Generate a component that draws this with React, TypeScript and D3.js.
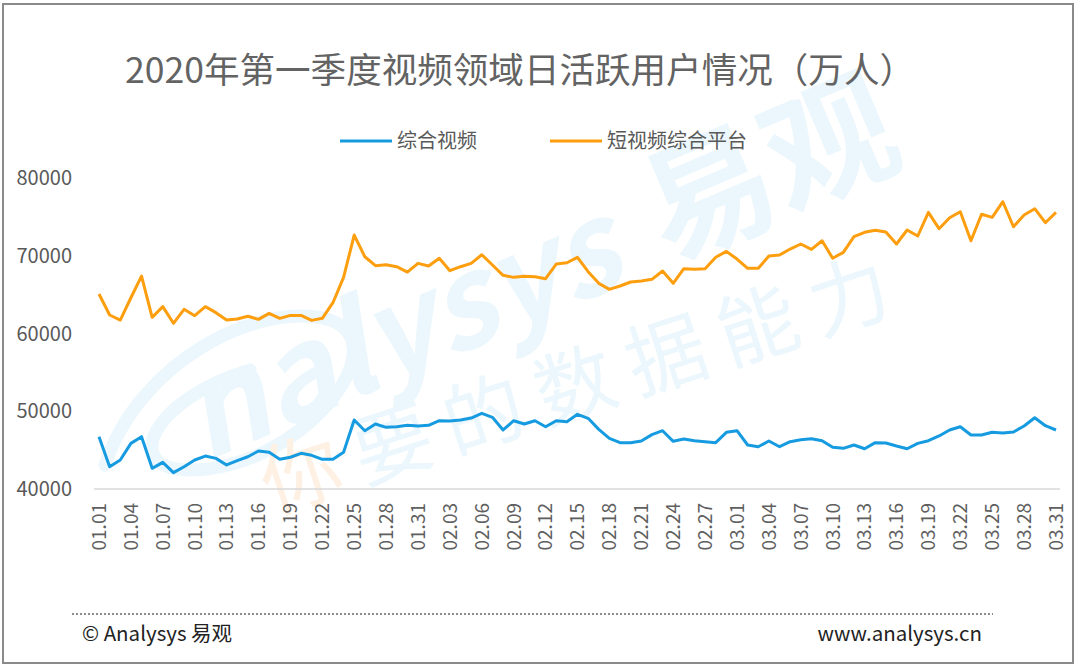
import React, { useRef, useEffect } from "react";
import * as d3 from "d3";

// daily active users, 10k people, 2020-01-01 .. 2020-03-31
const comprehensive = [
  46730, 42870, 43730, 45870, 46730, 42660, 43430, 42100, 42870, 43730,
  44240, 43940, 43090, 43640, 44150, 44890, 44720, 43820, 44080, 44590,
  44330, 43820, 43820, 44720, 48870, 47500, 48360, 47930, 48010, 48190,
  48100, 48190, 48780, 48740, 48870, 49130, 49730, 49220, 47590, 48780,
  48360, 48780, 48010, 48780, 48660, 49600, 49090, 47670, 46520, 45960,
  45960, 46170, 46990, 47500, 46130, 46430, 46210, 46080, 45960, 47290,
  47500, 45660, 45440, 46170, 45440, 46080, 46340, 46470, 46210, 45360,
  45230, 45660, 45180, 45960, 45920, 45530, 45180, 45870, 46210, 46820,
  47590, 48010, 46940, 46940, 47290, 47200, 47330, 48100, 49170, 48140, 47590,
];

const shortVideo = [
  65080, 62380, 61730, 64600, 67390, 62080, 63450, 61310, 63110, 62290,
  63450, 62680, 61730, 61860, 62210, 61820, 62590, 61950, 62330, 62330,
  61690, 61950, 63960, 67220, 72660, 69870, 68720, 68850, 68590, 67900,
  69020, 68680, 69670, 68080, 68590, 69020, 70130, 68810, 67480, 67220,
  67350, 67310, 67050, 68930, 69100, 69800, 67950, 66450, 65680, 66110,
  66620, 66750, 66970, 68040, 66450, 68330, 68250, 68330, 69800, 70560,
  69580, 68380, 68380, 69960, 70090, 70860, 71510, 70820, 71930, 69670,
  70440, 72450, 73010, 73270, 73050, 71510, 73310, 72540, 75580, 73480,
  74890, 75660, 71930, 75330, 74940, 76950, 73730, 75240, 76050, 74250, 75580,
];

const seriesNames = ["综合视频", "短视频综合平台"];
const seriesColors = ["#169be0", "#fd9e0e"];
const yTicks = [40000, 50000, 60000, 70000, 80000];

const fmt = d3.timeFormat("%m.%d");
const dates = d3.timeDay.range(new Date(2020, 0, 1), new Date(2020, 3, 1)).map(fmt);

const FONT = "'Noto Sans CJK SC', 'Noto Sans', sans-serif";

const App: React.FC = () => {
  const svgRef = useRef<SVGSVGElement | null>(null);

  const width = 1080;
  const height = 670;

  const xScale = d3.scaleLinear().domain([0, dates.length - 1]).range([99, 1056]);
  const yScale = d3.scaleLinear().domain([40000, 80000]).range([489, 178]);

  useEffect(() => {
    if (!svgRef.current) return;
    const svg = d3.select(svgRef.current);
    svg.selectAll("*").remove();

    svg.append("rect").attr("width", width).attr("height", height).attr("fill", "#fff");

    // watermark
    const wm = svg.append("g").attr("fill", "#ebf7fc");
    wm.append("path")
      .attr("d", "M105,465 C140,360 260,300 330,320 C400,345 300,470 190,470 C120,470 150,400 250,370")
      .attr("fill", "none").attr("stroke", "#ebf7fc").attr("stroke-width", 13)
      .attr("stroke-linecap", "round");
    wm.append("text")
      .attr("transform", "translate(205,462) rotate(-23)")
      .attr("font-family", FONT).attr("font-size", 125).attr("font-weight", "bold")
      .attr("font-style", "italic")
      .text("nalysys");
    wm.append("text")
      .attr("transform", "translate(668,262) rotate(-23)")
      .attr("font-family", FONT).attr("font-size", 130).attr("font-weight", "bold")
      .text("易观");
    const slogan = wm.append("text")
      .attr("transform", "translate(272,514) rotate(-18)")
      .attr("font-family", FONT).attr("font-size", 80)
      .attr("letter-spacing", 16);
    slogan.append("tspan").attr("fill", "#fef0e2").text("你");
    slogan.append("tspan").text("要的数据能力");

    // border
    svg.append("rect")
      .attr("x", 3).attr("y", 4).attr("width", 1070).attr("height", 659)
      .attr("fill", "none").attr("stroke", "#8a8a8a").attr("stroke-width", 2);

    // title
    svg.append("text")
      .attr("x", 520).attr("y", 83)
      .attr("text-anchor", "middle")
      .attr("font-family", FONT).attr("font-size", 35).attr("fill", "#636363")
      .attr("textLength", 790).attr("lengthAdjust", "spacingAndGlyphs")
      .text("2020年第一季度视频领域日活跃用户情况（万人）");

    // legend
    const legendX = [340, 550];
    seriesNames.forEach((name, i) => {
      svg.append("line")
        .attr("x1", legendX[i]).attr("x2", legendX[i] + 52)
        .attr("y1", 141).attr("y2", 141)
        .attr("stroke", seriesColors[i]).attr("stroke-width", 3);
      svg.append("text")
        .attr("x", legendX[i] + 57).attr("y", 141).attr("dy", "0.36em")
        .attr("font-family", FONT).attr("font-size", 20).attr("fill", "#595959")
        .text(name);
    });

    // y axis labels
    svg.selectAll(".ytick").data(yTicks).enter().append("text")
      .attr("class", "ytick")
      .attr("x", 72).attr("y", (d) => yScale(d)).attr("dy", "0.36em")
      .attr("text-anchor", "end")
      .attr("font-family", FONT).attr("font-size", 20).attr("fill", "#595959")
      .text((d) => String(d));

    // baseline
    svg.append("line")
      .attr("x1", 94).attr("x2", 1060)
      .attr("y1", yScale(40000)).attr("y2", yScale(40000))
      .attr("stroke", "#d9d9d9").attr("stroke-width", 1.5);

    // x axis labels, every third day
    const shown = dates.map((d, i) => ({ d, i })).filter((o) => o.i % 3 === 0);
    svg.selectAll(".xtick").data(shown).enter().append("text")
      .attr("class", "xtick")
      .attr("transform", (o) => `translate(${xScale(o.i)},503) rotate(-90)`)
      .attr("dy", "0.36em")
      .attr("text-anchor", "end")
      .attr("font-family", FONT).attr("font-size", 19).attr("fill", "#5f5f5f")
      .text((o) => o.d);

    // lines
    const line = d3.line<number>()
      .x((_, i) => xScale(i))
      .y((d) => yScale(d));
    [comprehensive, shortVideo].forEach((values, i) => {
      svg.append("path")
        .attr("d", line(values) as string)
        .attr("fill", "none")
        .attr("stroke", seriesColors[i])
        .attr("stroke-width", 3)
        .attr("stroke-linejoin", "round");
    });

    // footer
    svg.append("line")
      .attr("x1", 72).attr("x2", 993).attr("y1", 614).attr("y2", 614)
      .attr("stroke", "#8c8c8c").attr("stroke-width", 2).attr("stroke-dasharray", "2,2");
    svg.append("text")
      .attr("x", 82).attr("y", 641)
      .attr("font-family", FONT).attr("font-size", 20.5).attr("fill", "#222")
      .text("© Analysys 易观");
    svg.append("text")
      .attr("x", 982).attr("y", 641).attr("text-anchor", "end")
      .attr("font-family", FONT).attr("font-size", 20.5).attr("fill", "#222")
      .text("www.analysys.cn");
  }, []);

  return (
    <div style={{ position: "absolute", left: 0, top: 0 }}>
      <svg ref={svgRef} width={width} height={height} style={{ display: "block" }} />
    </div>
  );
};

export default App;
